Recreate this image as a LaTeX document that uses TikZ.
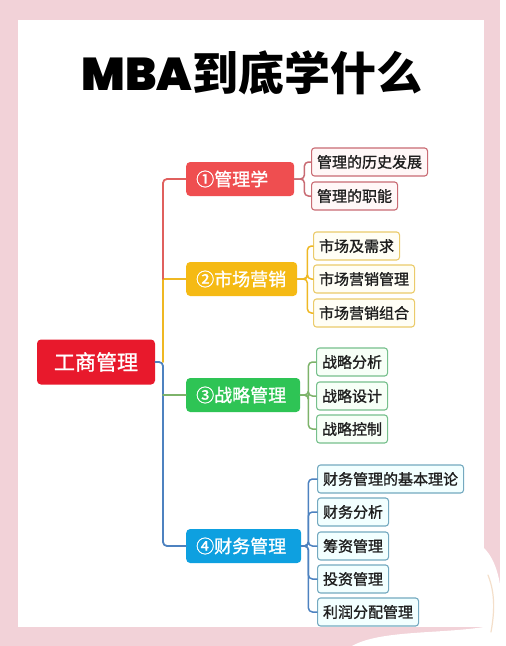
\documentclass[tikz,border=0pt]{standalone}
\usepackage{fontspec}
\usetikzlibrary{calc}
\newfontfamily\cjk{Noto Sans CJK SC}
\newfontfamily\cjkmed{Noto Sans CJK SC}[FakeBold=1.2]
\newfontfamily\latinbold{Poppins}[UprightFont=* Bold]
\definecolor{PinkBack}{HTML}{F2D2D8}
\definecolor{RootRed}{HTML}{E8192C}
\definecolor{TopRed}{HTML}{EF4E50}
\definecolor{TopYellow}{HTML}{F5BA14}
\definecolor{TopGreen}{HTML}{2EC455}
\definecolor{TopBlue}{HTML}{0EA0E0}
\definecolor{LineRed}{HTML}{E0605E}
\definecolor{LineYellow}{HTML}{EFB823}
\definecolor{LineGreen}{HTML}{7DB36A}
\definecolor{LineBlue}{HTML}{4D82C0}
\definecolor{EdgeRed}{HTML}{C96B73}
\definecolor{EdgeYellow}{HTML}{EBCB6A}
\definecolor{EdgeGreen}{HTML}{76C08C}
\definecolor{EdgeBlue}{HTML}{74A9C0}
\definecolor{InkDark}{HTML}{1E1E1E}

\begin{document}
\begin{tikzpicture}[
  x=1pt, y=-1pt,
  line cap=round, line join=round,
  rootbox/.style={fill=RootRed, rounded corners=4pt, text=white,
    minimum width=118pt, minimum height=45pt, inner sep=0pt,
    font=\cjkmed\fontsize{21}{21}\selectfont},
  topicbox/.style={rounded corners=4pt, text=white, anchor=west,
    minimum height=34pt, inner xsep=10pt, inner ysep=0pt, align=left,
    font=\cjkmed\fontsize{18}{18}\selectfont},
  leafbox/.style={draw, line width=1.1pt, rounded corners=3pt, anchor=west,
    minimum height=28pt, inner xsep=5.5pt, inner ysep=0pt, text=InkDark,
    font=\cjkmed\fontsize{15}{15}\selectfont},
  grpA/.style={draw=EdgeRed, fill=red!3},
  grpB/.style={draw=EdgeYellow, fill=yellow!4},
  grpC/.style={draw=EdgeGreen, fill=green!3},
  grpD/.style={draw=EdgeBlue, fill=blue!2!cyan!5},
  trunk/.style={line width=1.8pt},
  twig/.style={line width=1.5pt, rounded corners=4pt}
]

% === Background and white panel ===
\fill[PinkBack] (0,0) rectangle (500,646);
\fill[white] (18,20) rectangle (484,627);
% petals at the lower right
\fill[white] (484,548) .. controls (506,570) and (503,620) .. (500,646)
  -- (352,646) .. controls (380,630) and (440,634) .. (484,627) -- cycle;
\draw[orange!30!brown!25, line width=1.2pt] (488,575) .. controls (496,595) and (494,615) .. (491,632);

% === Title ===
\node[font=\cjk\bfseries\fontsize{46}{46}\selectfont, text=black] (title) at (252,73)
  {{\latinbold MBA}到底学什么};

% === Root ===
\node[rootbox] (root) at (96,362) {工商管理};

% === Main topics ===
\foreach \nm/\txt/\y/\tw/\col in {
  mgmt/①管理学/179/88/TopRed,
  mkt/②市场营销/279/91/TopYellow,
  strat/③战略管理/395/94/TopGreen,
  fin/④财务管理/546/95/TopBlue%
}{
  \node[topicbox, fill=\col, text width=\tw pt] (\nm) at (186,\y) {\txt};
}

% === Leaves ===
\foreach \nm/\txt/\x/\y/\grp in {
  hist/管理的历史发展/311/162/grpA,
  func/管理的职能/311/196/grpA,
  need/市场及需求/313/246/grpB,
  mman/市场营销管理/313/279/grpB,
  mmix/市场营销组合/313/313/grpB,
  sana/战略分析/316/362/grpC,
  sdes/战略设计/316/396/grpC,
  sctl/战略控制/316/429/grpC,
  theo/财务管理的基本理论/317/479/grpD,
  fana/财务分析/317/512/grpD,
  fund/筹资管理/317/546/grpD,
  inv/投资管理/317/579/grpD,
  prof/利润分配管理/317/612/grpD%
}{
  \node[leafbox, \grp] (\nm) at (\x,\y) {\txt};
}

% === Trunk from root to topics ===
\coordinate (jroot) at (163,362);
\coordinate (jmkt) at (163,279);
\draw[trunk, LineBlue, rounded corners=4pt] (root.east) -- (jroot) |- (fin.west);
\draw[trunk, LineYellow] (jroot) -- (jmkt) -- (mkt.west);
\draw[trunk, LineRed, rounded corners=4pt] (jmkt) |- (mgmt.west);
\draw[trunk, LineGreen] (strat.west) -- (strat.west -| jroot);

% === Topic to leaf links ===
\foreach \p/\c/\d/\col in {
  mgmt/hist/10/EdgeRed, mgmt/func/10/EdgeRed,
  mkt/need/10/LineYellow, mkt/mman/10/LineYellow, mkt/mmix/10/LineYellow,
  strat/sana/8/LineGreen, strat/sdes/8/LineGreen, strat/sctl/8/LineGreen,
  fin/theo/7/LineBlue, fin/fana/7/LineBlue, fin/fund/7/LineBlue,
  fin/inv/7/LineBlue, fin/prof/7/LineBlue%
}{
  \draw[twig, \col] (\p.east) -- ++(\d,0) |- (\c.west);
}

\end{tikzpicture}
\end{document}
